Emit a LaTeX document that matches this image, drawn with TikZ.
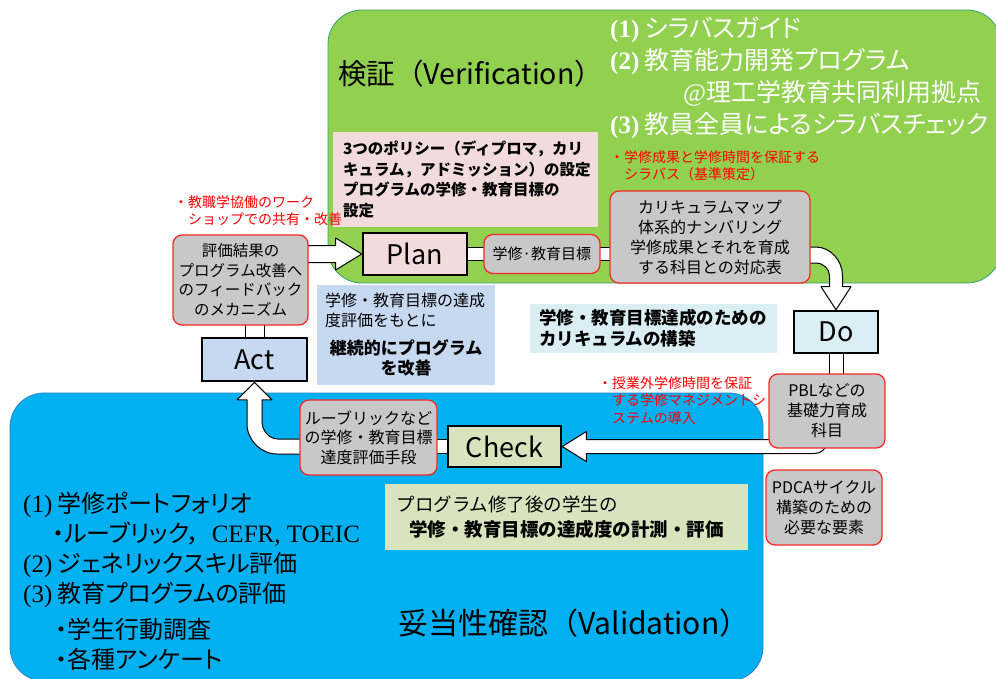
\documentclass[tikz,border=0pt]{standalone}
\usepackage{fontspec}
\setmainfont{Noto Sans CJK JP}
\newfontfamily\timesfont{Liberation Serif}
\newfontfamily\propjp{Noto Sans CJK JP}[RawFeature=+palt]
\usetikzlibrary{positioning,calc}

\definecolor{verifygreen}{RGB}{146,208,80}
\definecolor{verifyline}{RGB}{50,160,120}
\definecolor{validblue}{RGB}{0,176,240}
\definecolor{validline}{RGB}{40,130,200}
\definecolor{planpink}{RGB}{242,220,219}
\definecolor{actblue}{RGB}{198,217,241}
\definecolor{docyan}{RGB}{218,238,243}
\definecolor{checkolive}{RGB}{215,228,189}
\definecolor{elemgray}{RGB}{200,200,200}
\definecolor{elemred}{RGB}{250,40,40}
\definecolor{notered}{RGB}{255,0,0}

\newcommand{\listnum}[1]{{\timesfont\fontsize{25}{30}\selectfont #1}}

\pgfdeclarelayer{regions}
\pgfdeclarelayer{arrows}
\pgfsetlayers{regions,arrows,main}

\tikzset{
  stage/.style={draw=black, line width=2.6pt, inner sep=0pt, font=\fontsize{27}{27}\selectfont},
  element/.style={draw=elemred, fill=elemgray, line width=1.3pt, rounded corners=9pt, inner sep=0pt, align=center, font=\fontsize{16}{20}\selectfont},
  rednote/.style={anchor=north west, inner sep=0pt, align=left, text=notered, font=\fontsize{14}{17.5}\selectfont},
  flowarrow/.style={draw=black, fill=white, line width=1pt, line join=round},
  area/.style={rounded corners=34pt, line width=0.8pt}
}

\begin{document}
\begin{tikzpicture}[x=1pt, y=-1pt]
\useasboundingbox (0,0) rectangle (996,678);

% Plan
\node[stage, fill=planpink, minimum width=104pt, minimum height=42pt] (plan) at (415,254) {Plan};
\node[element, minimum width=116pt, minimum height=39pt, right=15pt of plan, font=\fontsize{15}{18}\selectfont] (goal) {学修·教育目標};
\node[fill=planpink, minimum width=265pt, minimum height=95pt, inner sep=0pt, text width=245pt, align=left, font=\bfseries\fontsize{15.5}{20.5}\selectfont] (policy) at (465.5,179.5) {3つのポリシー（ディプロマ，カリ\\キュラム，アドミッション）の設定\\プログラムの学修・教育目標の\\設定};
\node[element, minimum width=200pt, minimum height=92pt] (curr) at (710,237) {カリキュラムマップ\\体系的ナンバリング\\学修成果とそれを育成\\する科目との対応表};
\node[rednote] (syllabus) at (624,150) {\llap{・}学修成果と学修時間を保証する\\シラバス（基準策定）};

% Do
\node[stage, fill=docyan, minimum width=84pt, minimum height=42pt] (do) at (836,332) {Do};
\node[element, minimum width=116pt, minimum height=74pt] (pbl) at (827,411) {PBLなどの\\基礎力育成\\科目};
\node[element, minimum width=116pt, minimum height=75pt] (pdca) at (824,507.5) {PDCAサイクル\\構築のための\\必要な要素};
\node[fill=docyan, minimum width=247pt, minimum height=49pt, inner sep=0pt, text width=229pt, align=left, font=\bfseries\fontsize{17.5}{21}\selectfont] (build) at (653.5,328.5) {学修・教育目標達成のための\\カリキュラムの構築};
\node[rednote] (selfstudy) at (612,376) {\llap{・}授業外学修時間を保証\\する学修マネジメントシ\\ステムの導入};

% Check
\node[stage, fill=checkolive, minimum width=113pt, minimum height=41pt] (check) at (504.5,446.5) {Check};
\node[element, minimum width=137pt, minimum height=75pt, font=\fontsize{16}{19.5}\selectfont] (rubric) at (368.5,437.5) {ルーブリックなど\\の学修・教育目標\\達度評価手段};
\node[fill=checkolive, minimum width=363pt, minimum height=66pt, inner sep=0pt, text width=340pt, align=left, font=\fontsize{18.5}{25}\selectfont] (measure) at (566.5,517) {プログラム修了後の学生の\\\hspace*{0.7em}\textbf{学修・教育目標の達成度の計測・評価}};

% Act
\node[stage, fill=actblue, minimum width=105pt, minimum height=43pt] (act) at (254.5,359.5) {Act};
\node[element, minimum width=135pt, minimum height=90pt, font=\fontsize{15.5}{19.5}\selectfont] (eval) at (240.5,280) {評価結果の\\プログラム改善へ\\のフィードバック\\のメカニズム};
\node[rednote] (workshop) at (188,195) {\llap{・}教職学協働のワーク\\ショップでの共有・改善};
\node[fill=actblue, minimum width=178pt, minimum height=100pt, inner sep=0pt] (improve) at (406,335) {\parbox{162pt}{\fontsize{16}{20}\selectfont\raggedright 学修・教育目標の達成\\度評価をもとに\par\vspace{8pt}\centering\bfseries\fontsize{17}{20}\selectfont 継続的にプログラム\\を改善\par}};

% titles and lists
\node[anchor=west, inner sep=0pt, font=\fontsize{28.5}{28.5}\selectfont] (verification) at (338,74) {検証（Verification）};
\node[anchor=north west, inner sep=0pt, align=left, text=white, font=\propjp\fontsize{25}{32}\selectfont] (tools) at (610,17) {\listnum{\bfseries(1)} シラバスガイド\\\listnum{\bfseries(2)} 教育能力開発プログラム\\\hspace*{73pt}\listnum{@}理工学教育共同利用拠点\\\listnum{\bfseries(3)} 教員全員によるシラバスチェック};
\node[anchor=west, inner sep=0pt, font=\fontsize{30}{30}\selectfont] (validation) at (398,623) {妥当性確認（Validation）};
\node[anchor=north west, inner sep=0pt, align=left, font=\propjp\fontsize{24}{30}\selectfont] (methods) at (23,492) {\listnum{(1)} 学修ポートフォリオ\\\hspace*{29pt}・ルーブリック，\hspace{12pt}\listnum{CEFR, TOEIC}\\\listnum{(2)} ジェネリックスキル評価\\\listnum{(3)} 教育プログラムの評価\\[6pt]\hspace*{32pt}・学生行動調査\\\hspace*{32pt}・各種アンケート};

\begin{pgfonlayer}{regions}
\draw[area, fill=verifygreen, draw=verifyline] (328,10) rectangle (1001,283);
\draw[area, fill=validblue, draw=validline] (10,393) rectangle (763,681);
\end{pgfonlayer}

\begin{pgfonlayer}{arrows}
% Act -> Plan
\draw[flowarrow] (plan.west) -- ++(-26,-16) -- ++(0,7.5) -- ($(eval.east |- plan.west)+(-8,-8.5)$) -- ++(0,17) -- ($(plan.west)+(-26,8.5)$) -- ++(0,7.5) -- cycle;
% Plan -> curriculum
\draw[flowarrow] ($(plan.east)+(-5,-6.5)$) rectangle ($(curr.west |- plan.east)+(5,6.5)$);
% curriculum -> Do
\draw[flowarrow] (do.north) -- ++(15,-23) -- ++(-8.5,0) -- ++(0,-11) .. controls +(0,-15) and +(15,0) .. ($(curr.east)+(5,10)$) -- ++(-15,0) -- ++(0,16) -- ++(15,0) .. controls +(7.5,0) and +(0,-7) .. ($(do.north)+(-6.5,-34)$) -- ++(0,11) -- ++(-8.5,0) -- cycle;
\draw[flowarrow] ($(do.south)+(-7,-4)$) rectangle ($(do.south |- pbl.north)+(7,4)$);
% Do -> Check
\draw[flowarrow] (check.east) -- ++(24,-15) -- ++(0,8) -- ($(pbl.south |- check.east)+(0,-7)$) .. controls +(0,9) and +(9,0) .. ($(pbl.south |- check.east)+(-14,7)$) -- ($(check.east)+(24,7)$) -- ++(0,8) -- cycle;
\draw[flowarrow] ($(rubric.east |- check.west)+(-5,-7)$) rectangle ($(check.west)+(5,7)$);
% Check -> Act
\draw[flowarrow] (act.south) -- ++(17.5,17.5) -- ++(-10,0) -- ($(act.south |- check.west)+(7.5,-25)$) .. controls +(0,9) and +(-9,0) .. ($(act.south |- check.west)+(23.5,-7.5)$) -- ($(rubric.west |- check.west)+(10,-7.5)$) -- ++(0,15) -- ($(act.south |- check.west)+(22.5,7.5)$) .. controls +(-16,0) and +(0,16) .. ($(act.south |- check.west)+(-7.5,-22.5)$) -- ($(act.south)+(-7.5,17.5)$) -- ++(-10,0) -- cycle;
\draw[flowarrow] ($(act.north)+(-9.5,5)$) rectangle ($(act.north |- eval.south)+(9.5,-5)$);
\end{pgfonlayer}
\end{tikzpicture}
\end{document}
